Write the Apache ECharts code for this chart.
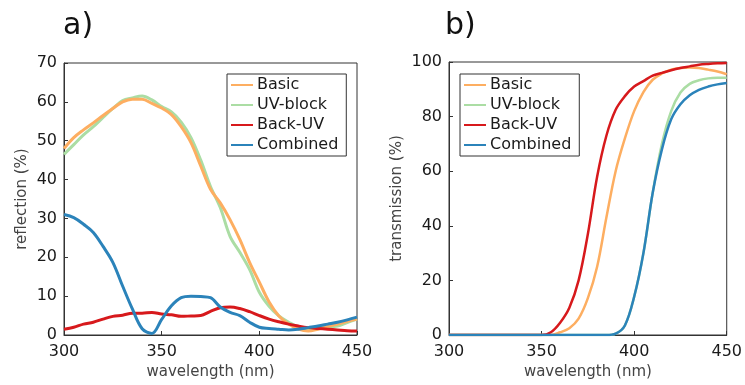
<!DOCTYPE html>
<html>
<head>
<meta charset="utf-8">
<script src="https://cdn.jsdelivr.net/npm/echarts@6/dist/echarts.min.js"></script>
<style>
  html, body { margin: 0; padding: 0; background: #fff; }
  #main { width: 745px; height: 385px; }
</style>
</head>
<body>
<div id="main"></div>
<script>
// wavelength grid (nm)
const wavelength = [300, 305, 310, 315, 320, 325, 330, 335, 340, 345, 350, 355, 360, 365, 370, 375,
  380, 385, 390, 395, 400, 405, 410, 415, 420, 425, 430, 435, 440, 445, 450];
const names = ["Basic", "UV-block", "Back-UV", "Combined"];
const colors = ["#fdae61", "#abdda4", "#d7191c", "#2b83ba"];

// a) reflection (%)
const reflBasic = [48, 50.8, 52.8, 54.6, 56.5, 58.3, 60, 60.7, 60.7, 59.6, 58.4, 56.7, 53.6, 49.5, 43.5, 37.5,
  34, 29.7, 24.6, 18.7, 13.6, 8.5, 4.9, 2.8, 1.5, 1, 1.5, 2.2, 2.8, 3.5, 4.1];
const reflUVblock = [46.5, 49, 51.5, 53.6, 56, 58.3, 60.3, 61, 61.5, 60.5, 58.8, 57.4, 54.8, 50.8, 45, 38.2,
  32.8, 25.4, 21.3, 16.9, 11, 7.4, 4.9, 3.3, 2, 1.5, 1.8, 2, 2.3, 3.2, 4.1];
const reflBackUV = [1.5, 2, 2.8, 3.3, 4.1, 4.8, 5.1, 5.6, 5.6, 5.8, 5.4, 5.2, 4.8, 4.9, 5, 6.1,
  7, 7.2, 6.8, 6, 5, 4.1, 3.4, 2.8, 2.3, 1.9, 1.7, 1.5, 1.3, 1.1, 1.0];
const reflCombined = [31, 30.2, 28.5, 26.4, 22.8, 18.7, 12.6, 6.7, 1.6, 0.4, 4, 7.5, 9.6, 10, 9.9, 9.6,
  7.2, 5.8, 5, 3.3, 2, 1.7, 1.5, 1.3, 1.5, 1.9, 2.3, 2.8, 3.3, 3.9, 4.6];

// b) transmission (%)
const transBasic = [0, 0, 0, 0, 0, 0, 0, 0, 0, 0, 0, 0, 1, 2.5, 6, 13.5,
  25, 43, 60, 72, 82, 89, 93.5, 95.8, 97.2, 97.8, 98, 97.8, 97.2, 96.5, 95.5];
const transUVblock = [0, 0, 0, 0, 0, 0, 0, 0, 0, 0, 0, 0, 0, 0, 0, 0,
  0, 0, 0.5, 3.5, 14, 30, 52, 70, 82, 88.8, 92, 93.3, 94, 94.2, 94.2];
const transBackUV = [0, 0, 0, 0, 0, 0, 0, 0, 0, 0, 0, 1, 4.5, 10, 20, 37,
  58, 73, 82.5, 87.5, 91, 93, 95, 96, 97, 97.8, 98.4, 99, 99.3, 99.5, 99.6];
const transCombined = [0, 0, 0, 0, 0, 0, 0, 0, 0, 0, 0, 0, 0, 0, 0, 0,
  0, 0, 0.5, 3.5, 14, 30, 52, 68, 79, 84.5, 87.8, 89.8, 91, 91.8, 92.3];

const xTicks = [300, 350, 400, 450];

const font = "DejaVu Sans";
const pairs = (vals) => wavelength.map((w, i) => [w, vals[i]]);

function makeSeries(list, idx, width) {
  return list.map((vals, i) => ({
    name: names[i],
    type: "line",
    xAxisIndex: idx,
    yAxisIndex: idx,
    symbol: "none",
    smooth: 0.35,
    z: i === 1 ? 2 : 3,
    lineStyle: { color: colors[i], width: width },
    itemStyle: { color: colors[i] },
    data: pairs(vals),
  }));
}

function xAxis(idx) {
  return {
    type: "value",
    gridIndex: idx,
    min: 300,
    max: 450,
    interval: 50,
    name: "wavelength (nm)",
    nameLocation: "middle",
    nameGap: 30,
    nameTextStyle: { fontFamily: font, fontSize: 15, color: "#444" },
    axisLine: { lineStyle: { color: "#333", width: 1 } },
    axisTick: { inside: true, length: 4, lineStyle: { color: "#333" } },
    axisLabel: { fontFamily: font, fontSize: 16, color: "#1a1a1a", margin: 9 },
    splitLine: { show: false },
  };
}

function yAxis(idx, max, interval, title, gap) {
  return {
    type: "value",
    gridIndex: idx,
    min: 0,
    max: max,
    interval: interval,
    name: title,
    nameLocation: "middle",
    nameGap: gap,
    nameTextStyle: { fontFamily: font, fontSize: 15, color: "#444" },
    axisLine: { show: true, lineStyle: { color: "#333", width: 1 } },
    axisTick: { show: true, inside: true, length: 4, lineStyle: { color: "#333" } },
    axisLabel: { fontFamily: font, fontSize: 16, color: "#1a1a1a", margin: 7 },
    splitLine: { show: false },
  };
}

function legend(left) {
  return {
    data: names,
    orient: "vertical",
    left: left,
    top: 74,
    icon: "rect",
    itemWidth: 22,
    itemHeight: 2,
    itemGap: 4,
    padding: [3, 8, 3, 4],
    borderColor: "#333",
    borderWidth: 1,
    backgroundColor: "#fff",
    textStyle: { fontFamily: font, fontSize: 16, color: "#1a1a1a", padding: [0, 0, 0, -1] },
    selectedMode: false,
  };
}

const option = {
  animation: false,
  backgroundColor: "#fff",
  title: [
    { text: "a)", left: 58, top: 6, textStyle: { fontFamily: font, fontSize: 30, fontWeight: "normal", color: "#111" } },
    { text: "b)", left: 440, top: 6, textStyle: { fontFamily: font, fontSize: 30, fontWeight: "normal", color: "#111" } },
  ],
  grid: [
    { left: 64, top: 63, width: 293, height: 273, show: true, borderColor: "#333", borderWidth: 1, backgroundColor: "transparent" },
    { left: 449, top: 62, width: 294, height: 274, show: true, borderColor: "#333", borderWidth: 1, backgroundColor: "transparent" },
  ],
  legend: [legend(227), legend(460)],
  xAxis: [xAxis(0), xAxis(1)],
  yAxis: [yAxis(0, 70, 10, "reflection (%)", 34), yAxis(1, 100, 20, "transmission (%)", 44)],
  series: [
    ...makeSeries([reflBasic, reflUVblock, reflBackUV, reflCombined], 0, 3),
    ...makeSeries([transBasic, transUVblock, transBackUV, transCombined], 1, 2.5),
  ],
};

const chart = echarts.init(document.getElementById("main"));
chart.setOption(option);
</script>
</body>
</html>
